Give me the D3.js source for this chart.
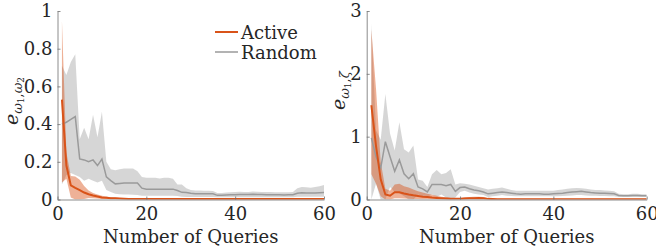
<!DOCTYPE html>
<html>
<head>
<meta charset="utf-8">
<script src="https://cdn.jsdelivr.net/npm/d3@7"></script>
<style>
  body { margin: 0; background: #fff; }
</style>
</head>
<body>
<div id="chart"></div>
<script>
// number of queries (x values)
const queries = d3.range(1, 61)
const xTicks = [0, 20, 40, 60]

// left panel: e_{w1,w2}
const activeMeanL = [0.53,0.18,0.075,0.062,0.05,0.037,0.028,0.021,0.016,0.011,0.009,0.007,0.006,0.005,0.004,0.003,0.003,0.003,0.003,0.003,
  0.003,0.003,0.003,0.003,0.003,0.003,0.003,0.003,0.003,0.003,0.003,0.003,0.003,0.003,0.003,0.003,0.003,0.003,0.003,0.003,
  0.003,0.003,0.003,0.003,0.003,0.003,0.003,0.003,0.003,0.003,0.003,0.003,0.003,0.003,0.003,0.003,0.003,0.003,0.003,0.003]
const activeHiL = [0.95,0.25,0.125,0.122,0.105,0.072,0.048,0.035,0.027,0.02,0.016,0.012,0.01,0.008,0.007,0.006,0.005,0.005,0.005,0.005,
  0.005,0.005,0.005,0.005,0.005,0.005,0.005,0.005,0.005,0.005,0.005,0.005,0.005,0.005,0.005,0.005,0.005,0.005,0.005,0.005,
  0.005,0.005,0.005,0.005,0.005,0.005,0.005,0.005,0.005,0.005,0.005,0.005,0.005,0.005,0.005,0.005,0.005,0.005,0.005,0.005]
const activeLoL = [0.09,0.11,0.01,0,0,0.002,0.008,0.007,0.005,0.003,0.002,0.002,0.002,0.002,0.001,0.001,0.001,0.001,0.001,0.001,
  0.001,0.001,0.001,0.001,0.001,0.001,0.001,0.001,0.001,0.001,0.001,0.001,0.001,0.001,0.001,0.001,0.001,0.001,0.001,0.001,
  0.001,0.001,0.001,0.001,0.001,0.001,0.001,0.001,0.001,0.001,0.001,0.001,0.001,0.001,0.001,0.001,0.001,0.001,0.001,0.001]
const randomMeanL = [0.40,0.41,0.425,0.44,0.215,0.21,0.20,0.21,0.18,0.215,0.12,0.10,0.083,0.085,0.087,0.087,0.087,0.087,0.06,0.055,
  0.055,0.055,0.055,0.055,0.055,0.055,0.048,0.038,0.037,0.033,0.03,0.03,0.03,0.03,0.03,0.022,0.022,0.024,0.025,0.025,
  0.027,0.026,0.027,0.028,0.027,0.026,0.025,0.025,0.025,0.025,0.024,0.025,0.025,0.033,0.036,0.035,0.034,0.035,0.036,0.037]
const randomHiL = [0.71,0.66,0.73,0.77,0.32,0.38,0.32,0.45,0.33,0.465,0.2,0.16,0.155,0.16,0.165,0.165,0.165,0.15,0.12,0.115,
  0.115,0.115,0.112,0.115,0.115,0.11,0.08,0.08,0.06,0.05,0.048,0.048,0.047,0.046,0.045,0.035,0.035,0.037,0.038,0.04,
  0.041,0.04,0.04,0.042,0.041,0.04,0.04,0.04,0.039,0.038,0.038,0.039,0.04,0.06,0.066,0.065,0.062,0.066,0.07,0.077]
const randomLoL = [0.08,0.13,0.14,0.13,0.12,0.1,0.11,0.1,0.09,0.1,0.05,0.04,0.03,0.028,0.027,0.026,0.025,0.024,0.02,0.02,
  0.02,0.02,0.02,0.02,0.02,0.02,0.018,0.014,0.013,0.013,0.013,0.013,0.013,0.013,0.013,0.012,0.012,0.012,0.012,0.012,
  0.012,0.012,0.012,0.012,0.012,0.012,0.012,0.012,0.012,0.012,0.012,0.012,0.012,0.015,0.015,0.015,0.015,0.015,0.015,0.015]

// right panel: e_{w1,zeta}
const activeMeanR = [1.5,0.85,0.32,0.08,0.06,0.115,0.115,0.096,0.08,0.066,0.055,0.045,0.038,0.03,0.025,0.02,0.016,0.012,0.01,0.01,
  0.015,0.018,0.02,0.022,0.02,0.01,0.007,0.005,0.005,0.005,0.005,0.005,0.005,0.005,0.005,0.005,0.005,0.005,0.005,0.005,
  0.005,0.005,0.005,0.005,0.005,0.005,0.005,0.005,0.005,0.005,0.005,0.005,0.005,0.005,0.005,0.005,0.005,0.005,0.005,0.005]
const activeHiR = [2.7,1.76,0.6,0.17,0.14,0.24,0.25,0.21,0.19,0.16,0.13,0.11,0.09,0.075,0.06,0.045,0.035,0.025,0.018,0.02,
  0.035,0.04,0.045,0.045,0.04,0.02,0.015,0.01,0.01,0.01,0.01,0.01,0.01,0.01,0.01,0.01,0.01,0.01,0.01,0.01,
  0.01,0.01,0.01,0.01,0.01,0.01,0.01,0.01,0.01,0.01,0.01,0.01,0.01,0.01,0.01,0.01,0.01,0.01,0.01,0.01]
const activeLoR = [0.4,0.25,0.05,0,0,0.02,0.02,0.015,0.01,0.008,0.006,0.005,0.004,0.003,0.003,0.002,0.002,0.002,0.002,0.002,
  0.002,0.002,0.002,0.002,0.002,0.002,0.002,0.002,0.002,0.002,0.002,0.002,0.002,0.002,0.002,0.002,0.002,0.002,0.002,0.002,
  0.002,0.002,0.002,0.002,0.002,0.002,0.002,0.002,0.002,0.002,0.002,0.002,0.002,0.002,0.002,0.002,0.002,0.002,0.002,0.002]
const randomMeanR = [0.98,0.68,0.5,0.92,0.68,0.45,0.63,0.41,0.33,0.41,0.2,0.17,0.12,0.24,0.24,0.24,0.22,0.24,0.13,0.19,
  0.2,0.17,0.15,0.14,0.12,0.09,0.1,0.11,0.12,0.11,0.1,0.09,0.085,0.09,0.09,0.09,0.09,0.085,0.085,0.09,
  0.095,0.1,0.11,0.12,0.125,0.13,0.12,0.11,0.105,0.1,0.1,0.095,0.09,0.065,0.06,0.06,0.065,0.065,0.06,0.06]
const randomHiR = [2.8,1.1,0.95,1.68,1.05,0.78,1.23,0.8,0.75,0.86,0.32,0.3,0.2,0.4,0.47,0.4,0.42,0.48,0.24,0.26,
  0.25,0.24,0.22,0.2,0.18,0.16,0.17,0.18,0.19,0.17,0.15,0.14,0.14,0.14,0.14,0.14,0.14,0.14,0.14,0.14,
  0.15,0.16,0.17,0.18,0.185,0.18,0.17,0.16,0.15,0.15,0.145,0.14,0.13,0.09,0.085,0.085,0.09,0.09,0.085,0.085]
const randomLoR = [0,0.25,0,0,0.2,0.12,0.1,0.05,0,0,0.08,0.05,0.04,0.08,0.04,0.08,0.03,0,0.03,0.12,
  0.14,0.11,0.09,0.08,0.07,0.04,0.05,0.06,0.07,0.06,0.055,0.05,0.05,0.05,0.05,0.05,0.05,0.05,0.05,0.05,
  0.05,0.055,0.06,0.065,0.07,0.07,0.065,0.06,0.06,0.055,0.055,0.05,0.05,0.04,0.04,0.04,0.04,0.04,0.04,0.04]

const activeColor = "#D95319"
const randomColor = "#9a9a9a"
const serif = "'DejaVu Serif', 'Liberation Serif', serif"

const width = 656
const height = 249

const svg = d3.select("#chart").append("svg")
  .attr("width", width)
  .attr("height", height)
  .attr("font-family", serif)

function drawPanel(opts) {
  const x = d3.scaleLinear().domain([0, 60]).range([opts.left, opts.right])
  const y = d3.scaleLinear().domain([0, opts.yMax]).range([199.5, 11])

  const g = svg.append("g")

  // clip so bands do not spill below the axis
  svg.append("clipPath").attr("id", opts.id)
    .append("rect")
    .attr("x", x(0)).attr("y", y(opts.yMax))
    .attr("width", x(60) - x(0)).attr("height", y(0) - y(opts.yMax))

  const plot = g.append("g").attr("clip-path", "url(#" + opts.id + ")")

  const band = (hi, lo) => d3.area()
    .x((d, i) => x(queries[i]))
    .y0((d, i) => y(lo[i]))
    .y1((d, i) => y(hi[i]))(queries)
  const line = vals => d3.line()
    .x((d, i) => x(queries[i]))
    .y(d => y(d))(vals)

  plot.append("path").attr("d", band(opts.randomHi, opts.randomLo))
    .attr("fill", "#d4d4d4").attr("opacity", 0.95)
  plot.append("path").attr("d", band(opts.activeHi, opts.activeLo))
    .attr("fill", activeColor).attr("opacity", 0.45)
  plot.append("path").attr("d", line(opts.randomMean))
    .attr("fill", "none").attr("stroke", randomColor).attr("stroke-width", 1.5)
  plot.append("path").attr("d", line(opts.activeMean))
    .attr("fill", "none").attr("stroke", activeColor).attr("stroke-width", 2)

  // axes, ticks pointing inward
  const xAxis = d3.axisBottom(x).tickValues(xTicks).tickSizeInner(-3).tickSizeOuter(0).tickPadding(8)
  const yAxis = d3.axisLeft(y).tickValues(opts.yTicks).tickFormat(opts.yFormat)
    .tickSizeInner(-3).tickSizeOuter(0).tickPadding(5)

  const gx = g.append("g").attr("transform", "translate(0," + y(0) + ")").call(xAxis)
  const gy = g.append("g").attr("transform", "translate(" + x(0) + ",0)").call(yAxis)
  for (const ax of [gx, gy]) {
    ax.attr("font-family", serif)
    ax.select(".domain").attr("stroke", "#6e6e6e").attr("stroke-width", 0.8)
    ax.selectAll(".tick line").attr("stroke", "#6e6e6e").attr("stroke-width", 0.8)
    ax.selectAll(".tick text").attr("font-size", 18).attr("fill", "#262626")
  }

  g.append("text")
    .attr("x", (x(0) + x(60)) / 2)
    .attr("y", 243)
    .attr("text-anchor", "middle")
    .attr("font-size", 18)
    .attr("fill", "#262626")
    .text("Number of Queries")

  // y label: e with subscript, rotated
  const yl = g.append("text")
    .attr("transform", "translate(" + opts.labelX + "," + opts.labelY + ") rotate(-90)")
    .attr("font-size", 19)
    .attr("fill", "#262626")
  yl.append("tspan").attr("font-style", "italic").text("e")
  yl.append("tspan").attr("font-style", "italic").attr("font-size", 13).attr("dy", 4).text("ω")
  yl.append("tspan").attr("font-size", 9).attr("dy", 2).text("1")
  yl.append("tspan").attr("font-size", 13).attr("dy", -2).text(",")
  if (opts.second === "ω") {
    yl.append("tspan").attr("font-style", "italic").attr("font-size", 13).text("ω")
    yl.append("tspan").attr("font-size", 9).attr("dy", 2).text("2")
  } else {
    yl.append("tspan").attr("font-style", "italic").attr("font-size", 13).text(opts.second)
  }
}

drawPanel({
  id: "clipL", left: 57.5, right: 324, yMax: 1,
  yTicks: [0, 0.2, 0.4, 0.6, 0.8, 1], yFormat: d => d === 0 || d === 1 ? d : d.toFixed(1),
  activeMean: activeMeanL, activeHi: activeHiL, activeLo: activeLoL,
  randomMean: randomMeanL, randomHi: randomHiL, randomLo: randomLoL,
  labelX: 18, labelY: 125, second: "ω"
})

drawPanel({
  id: "clipR", left: 366.7, right: 646.7, yMax: 3,
  yTicks: [0, 1, 2, 3], yFormat: d => d,
  activeMean: activeMeanR, activeHi: activeHiR, activeLo: activeLoR,
  randomMean: randomMeanR, randomHi: randomHiR, randomLo: randomLoR,
  labelX: 344.5, labelY: 110, second: "ζ"
})

// legend
const legend = svg.append("g")
const legendItems = [
  { name: "Active", color: activeColor, w: 2, y: 32 },
  { name: "Random", color: randomColor, w: 1.5, y: 52 }
]
legendItems.forEach(item => {
  legend.append("line")
    .attr("x1", 215).attr("x2", 238)
    .attr("y1", item.y).attr("y2", item.y)
    .attr("stroke", item.color).attr("stroke-width", item.w)
  legend.append("text")
    .attr("x", 241).attr("y", item.y + 6.5)
    .attr("font-size", 18)
    .attr("fill", "#262626")
    .text(item.name)
})
</script>
</body>
</html>
